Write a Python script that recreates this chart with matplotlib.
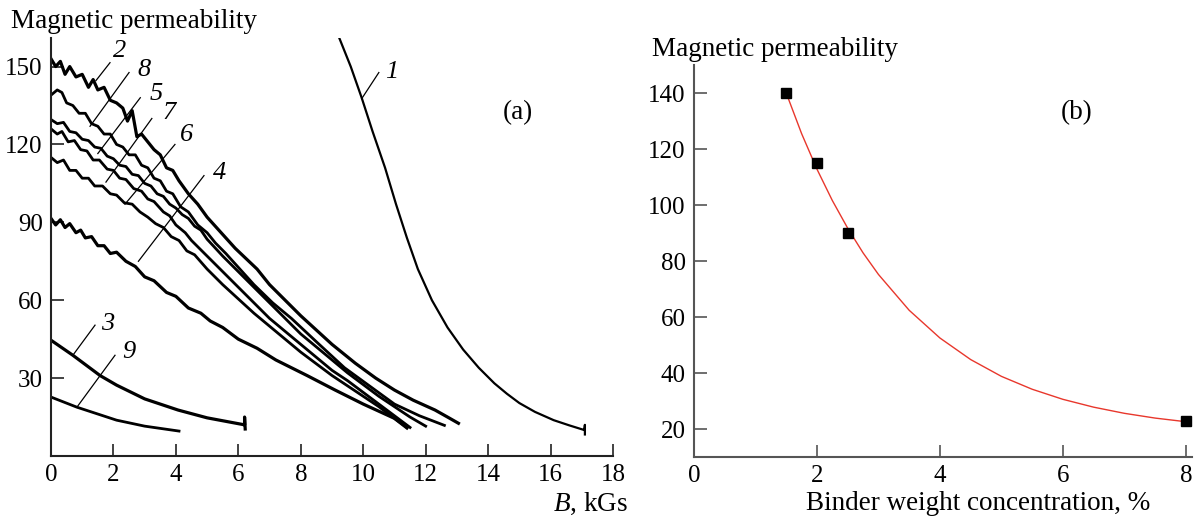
import numpy as np
import matplotlib
matplotlib.use("Agg")
import matplotlib.pyplot as plt

plt.rcParams["font.family"] = ["Liberation Serif", "DejaVu Serif"]
plt.rcParams["mathtext.fontset"] = "custom"
plt.rcParams["mathtext.rm"] = "Liberation Serif"
plt.rcParams["mathtext.it"] = "Liberation Serif:italic"

# ---- panel (a): permeability vs induction B (kGs) ----
b1 = [9.2, 9.6, 9.95, 10.3, 10.7, 11.05, 11.4, 11.75, 12.2, 12.7, 13.2, 13.7, 14.2, 14.6, 15.0, 15.5, 16.1,
      16.6, 17.08, 17.1, 17.1]
mu1 = [162, 150, 138, 125, 111, 97, 84, 72, 60, 49.5, 41, 34, 28, 24, 20.4, 17, 13.8,
       11.8, 10, 12, 8.3]

b2 = [0, 0.15, 0.3, 0.45, 0.6, 0.8, 1.0, 1.2, 1.35, 1.5, 1.7, 1.9, 2.1, 2.3, 2.45, 2.6, 2.75, 2.9, 3.1, 3.3,
      3.5, 3.7, 3.9, 4.1, 4.4, 4.7, 5.0, 5.3, 5.6, 5.9, 6.25, 6.6, 7.0, 7.5, 8.0, 8.5, 9.0, 9.75, 10.4, 11.0,
      11.6, 12.3, 12.7, 13.05]
mu2 = [153, 150, 152, 147, 150, 146, 147, 142, 145, 141, 142, 137, 136, 134, 129, 133, 123, 124, 121, 118,
       116, 111, 110, 106, 101, 97, 92, 88, 84, 80, 76, 72, 66, 60, 54, 48.5, 43, 35.7, 30, 25.4,
       21.5, 17.7, 15, 12.6]

b8 = [0, 0.2, 0.35, 0.5, 0.7, 0.9, 1.1, 1.3, 1.5, 1.7, 1.9, 2.1, 2.3, 2.5, 2.7, 2.9, 3.1, 3.3, 3.5, 3.7,
      3.9, 4.15, 4.4, 4.7, 5.0, 5.27, 5.6, 5.9, 6.5, 7.1, 7.7, 8.5, 9.4, 10.2, 11.0, 11.8, 12.6]
mu8 = [139, 141, 140, 136, 135, 132, 132, 128, 127, 124, 124, 120, 119, 116, 116, 112, 111, 107, 106, 102,
       101, 96, 94, 89, 86, 82, 78, 74, 66, 59, 53, 44, 34, 27, 20, 15.5, 11.8]

b5 = [0, 0.2, 0.4, 0.6, 0.8, 1.0, 1.2, 1.4, 1.6, 1.8, 2.0, 2.2, 2.4, 2.6, 2.8, 3.0, 3.2, 3.4, 3.6, 3.8,
      4.0, 4.2, 4.4, 4.6, 4.8, 5.0, 5.5, 6, 6.5, 7, 7.5, 8, 8.5, 9, 9.5, 10, 10.5, 11, 11.5, 12]
mu5 = [129.6, 128, 128.5, 125, 124.5, 122, 121.5, 119, 118.5, 115.5, 114.5, 112, 111.5, 108.5, 108, 105, 104,
       101, 100, 97, 95.5, 93, 91.5, 88.5, 87, 83.5, 77, 71, 65, 59, 53, 47, 42, 37, 32, 27.5, 23, 19, 15, 11.5]

b7 = [0, 0.2, 0.35, 0.55, 0.75, 0.95, 1.15, 1.35, 1.55, 1.8, 2.0, 2.2, 2.4, 2.65, 2.9, 3.1, 3.3, 3.6, 3.8,
      4.0, 4.3, 4.5, 5, 5.5, 6, 6.5, 7, 7.5, 8, 8.5, 9, 9.5, 10, 10.5, 11, 11.5]
mu7 = [126, 124, 125, 121, 121.5, 118, 117.5, 114, 114, 110.5, 110, 107, 106.5, 103, 102, 99, 98, 94, 92.5,
       89, 86, 83, 77, 71, 65, 59, 53, 48, 43, 38, 33, 29, 24.5, 20, 15.5, 11]

b6 = [0, 0.2, 0.4, 0.6, 0.8, 1.0, 1.2, 1.4, 1.65, 1.9, 2.1, 2.35, 2.6, 2.85, 3.1, 3.35, 3.6, 3.85, 4.1,
      4.35, 4.6, 5, 5.5, 6, 6.5, 7, 7.5, 8, 8.5, 9, 9.5, 10, 10.5, 11, 11.4]
mu6 = [115, 113, 114, 110, 110, 107, 107, 104, 104, 101, 100.5, 97.5, 97, 94, 92, 89.5, 88, 84.5, 83,
       79, 77.5, 72, 66, 60.5, 55, 50, 45, 40, 35.5, 31, 27, 23, 19, 14.5, 11]

b4 = [0, 0.15, 0.3, 0.45, 0.6, 0.8, 0.95, 1.1, 1.3, 1.5, 1.7, 1.9, 2.1, 2.4, 2.7, 3.0, 3.3, 3.7, 4.0, 4.4,
      4.8, 5.1, 5.5, 6.0, 6.6, 7.2, 8.2, 9.1, 10.0, 11.0, 11.4]
mu4 = [91.5, 89, 91, 88, 89.5, 86, 87, 84, 84.5, 81, 81, 78, 78.5, 75, 73, 69, 67.5, 63, 61.5, 57,
       55, 52, 49.5, 45, 41.5, 37, 31, 25.4, 20, 14.5, 10.8]

b3 = [0, 0.7, 1.57, 2.1, 3.0, 4.07, 5.0, 6.2, 6.2, 6.22]
mu3 = [44.6, 38.8, 31, 27.3, 22, 17.7, 14.7, 12, 15, 10.4]

b9 = [0, 0.83, 2.1, 3.0, 4.1]
mu9 = [22.7, 18.8, 13.8, 11.5, 9.6]

# ---- panel (b): permeability vs binder concentration ----
conc = [1.5, 2.0, 2.5, 8.0]
perm = [140, 115, 90, 23]
fit_x = [1.5, 1.75, 2.0, 2.25, 2.5, 2.75, 3.0, 3.5, 4.0, 4.5, 5.0, 5.5, 6.0, 6.5, 7.0, 7.5, 8.0]
fit_y = [140, 125.5, 112.8, 101.6, 91.7, 82.9, 75.2, 62.4, 52.5, 44.8, 38.8, 34.2, 30.6, 27.8, 25.6, 23.9, 22.6]

W, H = 1199, 516
fig = plt.figure(figsize=(W / 100, H / 100), dpi=100)

def style_axes(ax, col):
    for s in ["top", "right"]:
        ax.spines[s].set_visible(False)
    for s in ["left", "bottom"]:
        ax.spines[s].set_color(col)
        ax.spines[s].set_linewidth(1.5)
    ax.tick_params(direction="in", length=9, width=1.2, color=col, labelsize=18, pad=6)

# panel a
ax = fig.add_axes([51 / W, 1 - 456 / H, 562 / W, 418 / H])
curves = [(b1, mu1, 1.6), (b2, mu2, 2.3), (b8, mu8, 2.0), (b5, mu5, 2.0), (b7, mu7, 2.0),
          (b6, mu6, 2.0), (b4, mu4, 2.3), (b3, mu3, 2.3), (b9, mu9, 2.0)]
for bx, my, lw in curves:
    ax.plot(bx, my, color="black", lw=lw, solid_joinstyle="round")
ax.set_xlim(0, 18)
ax.set_ylim(0, 161)
ax.set_xticks(range(0, 19, 2))
ax.set_yticks([30, 60, 90, 120, 150])
style_axes(ax, "#222222")

# curve labels with leader lines: (label, line start, line end, text position)
labels_a = [
    ("1", (9.95, 137.6), (10.5, 147.7), (10.9, 148)),
    ("2", (1.44, 144.6), (1.89, 151.5), (2.2, 156)),
    ("8", (1.25, 127), (2.5, 147.7), (2.98, 148.5)),
    ("5", (1.5, 116.5), (2.86, 138), (3.36, 139.6)),
    ("7", (1.76, 105.5), (3.23, 130), (3.78, 132)),
    ("6", (2.37, 97), (3.97, 120), (4.34, 123.5)),
    ("4", (2.8, 75), (4.9, 108), (5.4, 109)),
    ("3", (0.7, 38.8), (1.41, 50.4), (1.8, 51)),
    ("9", (0.83, 18.8), (2.05, 38.8), (2.48, 40)),
]
for txt, p0, p1, pt in labels_a:
    ax.plot([p0[0], p1[0]], [p0[1], p1[1]], color="black", lw=0.9)
    ax.text(pt[0], pt[1], txt, fontsize=19, fontstyle="italic", ha="center", va="center")

# panel b
bx_ = fig.add_axes([694 / W, 1 - 457 / H, 498 / W, 392 / H])
bx_.plot(fit_x, fit_y, color="#e8372c", lw=1.0)
bx_.plot(conc, perm, "s", color="black", ms=7)
bx_.set_xlim(0, 8.1)
bx_.set_ylim(10, 150)
bx_.set_xticks([0, 2, 4, 6, 8])
bx_.set_yticks([20, 40, 60, 80, 100, 120, 140])
style_axes(bx_, "#555555")

def ftext(x, y, s, **kw):
    fig.text(x / W, 1 - y / H, s, **kw)

ftext(11, 28, "Magnetic permeability", fontsize=19.5, ha="left", va="baseline")
ftext(652, 56, "Magnetic permeability", fontsize=19.5, ha="left", va="baseline")
ftext(628, 511, "$B$, kGs", fontsize=19.5, ha="right", va="baseline")
ftext(978, 510, "Binder weight concentration, %", fontsize=19.5, ha="center", va="baseline")
ftext(518, 113, "(a)", fontsize=19.5, ha="center", va="center")
ftext(1077, 113, "(b)", fontsize=19.5, ha="center", va="center")

fig.savefig("out.png", dpi=100)
